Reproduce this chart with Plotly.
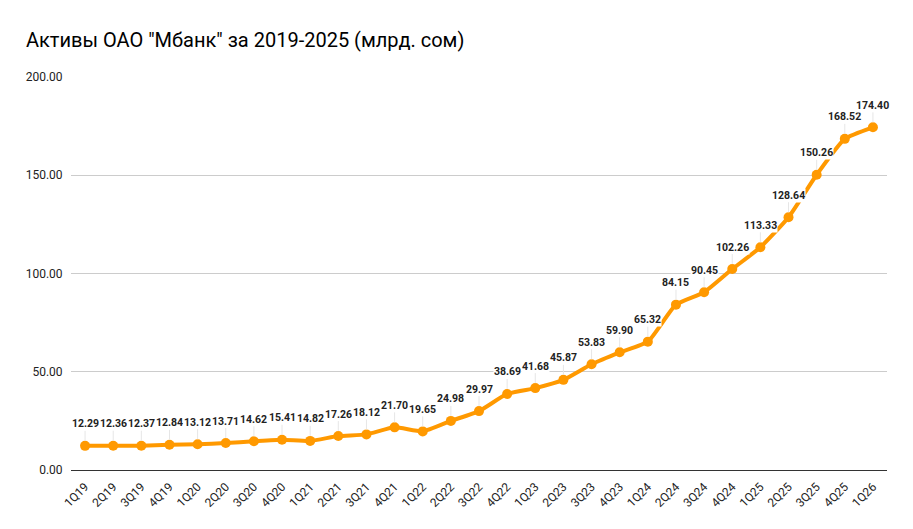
import plotly.graph_objects as go

categories = ["1Q19","2Q19","3Q19","4Q19","1Q20","2Q20","3Q20","4Q20",
              "1Q21","2Q21","3Q21","4Q21","1Q22","2Q22","3Q22","4Q22",
              "1Q23","2Q23","3Q23","4Q23","1Q24","2Q24","3Q24","4Q24",
              "1Q25","2Q25","3Q25","4Q25","1Q26"]
values = [12.29, 12.36, 12.37, 12.84, 13.12, 13.71, 14.62, 15.41,
          14.82, 17.26, 18.12, 21.70, 19.65, 24.98, 29.97, 38.69,
          41.68, 45.87, 53.83, 59.90, 65.32, 84.15, 90.45, 102.26,
          113.33, 128.64, 150.26, 168.52, 174.40]
y_ticks = [0, 50, 100, 150, 200]
title = 'Активы ОАО "Мбанк" за 2019-2025 (млрд. сом)'

fig = go.Figure()
fig.add_trace(go.Scatter(
    x=categories, y=values, mode="lines+markers",
    line=dict(color="#FF9900", width=4, shape="spline", smoothing=0.5),
    marker=dict(color="#FF9900", size=10),
    hoverinfo="skip", showlegend=False,
))

for c, v in zip(categories, values):
    fig.add_annotation(
        x=c, y=v, xref="x", yref="y", text=f"{v:.2f}",
        showarrow=True, arrowhead=0, arrowwidth=1, arrowcolor="#e6e6e6",
        ax=0, ay=-22, standoff=5,
        font=dict(family="Roboto, Arial, sans-serif", size=10.5, color="#222222", weight="bold"),
        bgcolor="white", borderpad=0,
    )

fig.update_layout(
    width=913, height=529,
    margin=dict(l=71, r=26, t=77, b=59, autoexpand=False),
    paper_bgcolor="white", plot_bgcolor="white",
    title=dict(text=title, x=26/913, xanchor="left", y=1-40/529, yanchor="middle",
               font=dict(family="Roboto, Arial, sans-serif", size=20, color="#000000")),
    font=dict(family="Roboto, Arial, sans-serif", size=11, color="#333333"),
)
fig.update_xaxes(
    type="category", tickangle=-45, showgrid=False, automargin=False,
    ticks="outside", ticklen=4, tickcolor="rgba(0,0,0,0)",
    range=[-0.5, len(categories) - 0.5],
    tickfont=dict(size=12, color="#222222"), showline=False,
)
fig.update_yaxes(
    range=[0, 200], tickvals=y_ticks, tickformat=".2f", automargin=False,
    showgrid=True, gridcolor="#cccccc", gridwidth=1,
    zeroline=True, zerolinecolor="#333333", zerolinewidth=1,
    ticks="outside", ticklen=5, tickcolor="rgba(0,0,0,0)",
    tickfont=dict(size=12, color="#222222"),
)

fig.write_html("out.html")
